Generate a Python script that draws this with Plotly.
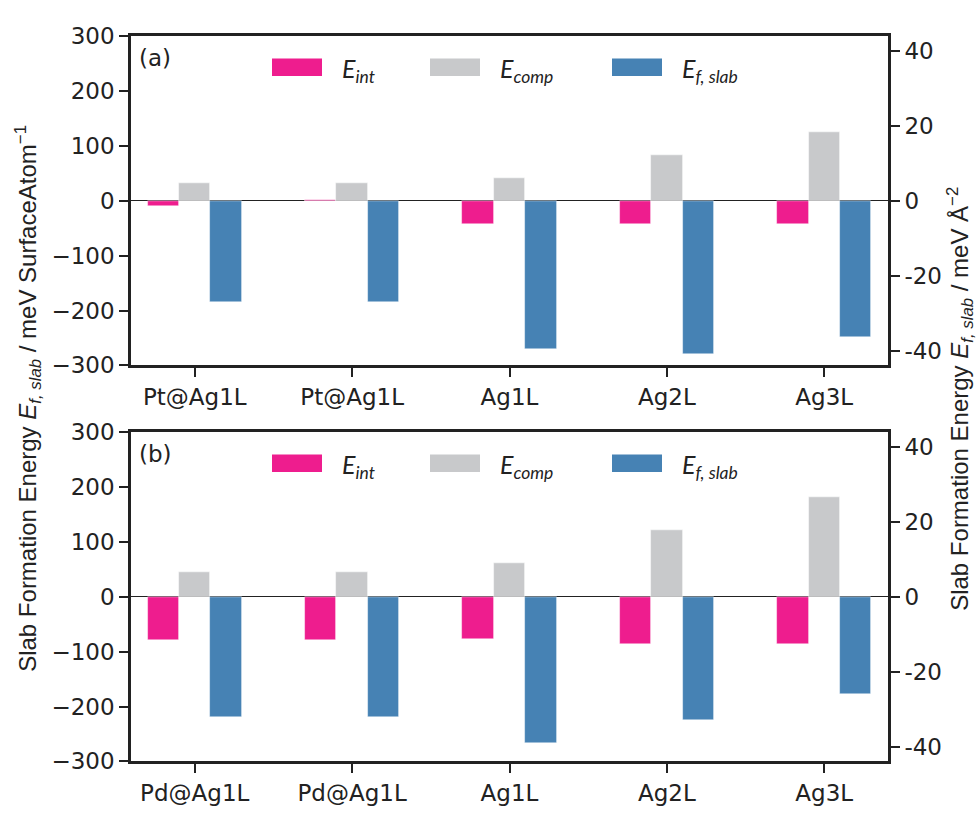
import plotly.graph_objects as go
from plotly.subplots import make_subplots

# ---- data -------------------------------------------------------------
labels_a = ["Pt@Ag1L", "Pt@Ag1L", "Ag1L", "Ag2L", "Ag3L"]
labels_b = ["Pd@Ag1L", "Pd@Ag1L", "Ag1L", "Ag2L", "Ag3L"]

# panel (a), meV per surface atom
e_int_a = [-10, 2, -43, -43, -43]
e_comp_a = [32, 32, 41, 84, 125]
e_fslab_a = [-185, -185, -270, -280, -248]

# panel (b), meV per surface atom
e_int_b = [-80, -80, -78, -87, -87]
e_comp_b = [45, 45, 61, 121, 181]
e_fslab_b = [-219, -219, -267, -224, -177]

series_names = ["<i>E</i><sub><i>int</i></sub>",
                "<i>E</i><sub><i>comp</i></sub>",
                "<i>E</i><sub><i>f, slab</i></sub>"]
series_colors = ["#EE1D8E", "#C8C9CB", "#4682B4"]
offsets = [-0.2, 0.0, 0.2]
bar_width = 0.2

left_ticks = [300, 200, 100, 0, -100, -200, -300]
right_ticks = [40, 20, 0, -20, -40]
right_ticktext = ["40", "20", "0", "-20", "-40"]
# meV/SurfaceAtom per meV/Å^2
unit_ratio = 6.84

# ---- figure -------------------------------------------------------------
W, H = 977, 818
fig = make_subplots(rows=2, cols=1,
                    specs=[[{"secondary_y": True}], [{"secondary_y": True}]])

panels = [
    (1, labels_a, [e_int_a, e_comp_a, e_fslab_a]),
    (2, labels_b, [e_int_b, e_comp_b, e_fslab_b]),
]
positions = list(range(len(labels_a)))

for row, cats, values in panels:
    for name, color, off, vals in zip(series_names, series_colors, offsets, values):
        fig.add_trace(
            go.Bar(x=[p + off for p in positions], y=vals, width=bar_width,
                   name=name, marker=dict(color=color,
                                          line=dict(color="rgba(255,255,255,0.6)", width=0.8)),
                   showlegend=False),
            row=row, col=1, secondary_y=False)
    # slab formation energy per area on the right-hand axis (carries that axis)
    fig.add_trace(
        go.Scatter(x=[p + offsets[2] for p in positions],
                   y=[v / unit_ratio for v in values[2]],
                   mode="markers", marker=dict(opacity=0), hoverinfo="skip",
                   showlegend=False),
        row=row, col=1, secondary_y=True)

# pixel layout of the two panels
px_left, px_right = 131, 888
panel_tops = [24, 433]
panel_h = 340

tick_font = dict(family="DejaVu Sans, sans-serif", size=23, color="#222")
axis_line = dict(showline=True, linecolor="#222", linewidth=2.6)

for i, (row, cats, _) in enumerate(panels):
    top = panel_tops[i]
    dom_y = [1 - (top + panel_h) / H, 1 - top / H]
    dom_x = [px_left / W, px_right / W]
    fig.update_xaxes(row=row, col=1, domain=dom_x, range=[-0.405, 4.405],
                     tickmode="array", tickvals=positions, ticktext=cats,
                     ticks="outside", ticklen=9, tickwidth=2, tickcolor="#222",
                     mirror=True, showgrid=False, zeroline=False,
                     tickfont=tick_font, **axis_line)
    fig.update_yaxes(row=row, col=1, secondary_y=False, domain=dom_y,
                     range=[-300, 300], tickmode="array", tickvals=left_ticks,
                     ticks="outside", ticklen=9, tickwidth=2, tickcolor="#222",
                     showgrid=False, zeroline=True, zerolinecolor="#222",
                     zerolinewidth=1.3, tickfont=tick_font, **axis_line)
    fig.update_yaxes(row=row, col=1, secondary_y=True,
                     range=[-300 / unit_ratio, 300 / unit_ratio],
                     tickmode="array", tickvals=right_ticks, ticktext=right_ticktext,
                     ticks="outside", ticklen=9, tickwidth=2, tickcolor="#222",
                     showgrid=False, zeroline=False, tickfont=tick_font, **axis_line)

# panel letters and legends drawn inside each panel
legend_keys_px = [272, 430, 612]
key_w, key_h = 50, 18
label_font = dict(family="Lato, Open Sans, sans-serif", size=25, color="#222")
annotations = []
shapes = []
for i, letter in enumerate(["(a)", "(b)"]):
    top = panel_tops[i]
    annotations.append(dict(x=137 / W, y=1 - (top + 22) / H, xref="paper", yref="paper",
                            text=letter, showarrow=False, xanchor="left", yanchor="middle",
                            font=dict(family="DejaVu Sans, sans-serif",
                                      size=23, color="#222")))
    cy = top + 32
    for kx, name, color in zip(legend_keys_px, series_names, series_colors):
        shapes.append(dict(type="rect", xref="paper", yref="paper",
                           x0=kx / W, x1=(kx + key_w) / W,
                           y0=1 - (cy + key_h / 2) / H, y1=1 - (cy - key_h / 2) / H,
                           fillcolor=color, line=dict(width=0)))
        annotations.append(dict(x=(kx + key_w + 18) / W, y=1 - (cy + 3) / H,
                                xref="paper", yref="paper", text=name, showarrow=False,
                                xanchor="left", yanchor="middle", font=label_font))

# shared axis titles
title_font = dict(family="Liberation Sans Narrow, Liberation Sans, Arial, sans-serif",
                  size=24, color="#222")
mid_y = 1 - (panel_tops[0] + panel_tops[1] + panel_h) / 2 / H
annotations.append(dict(
    x=28 / W, y=mid_y, xref="paper", yref="paper", textangle=-90, showarrow=False,
    text="Slab Formation Energy <i>E</i><sub><i>f, slab</i></sub> / meV SurfaceAtom<sup>\u22121</sup>",
    xanchor="center", yanchor="middle", font=title_font))
annotations.append(dict(
    x=960 / W, y=mid_y, xref="paper", yref="paper", textangle=-90, showarrow=False,
    text="Slab Formation Energy <i>E</i><sub><i>f, slab</i></sub> / meV \u00c5<sup>\u22122</sup>",
    xanchor="center", yanchor="middle", font=title_font))

fig.update_layout(width=W, height=H, margin=dict(l=0, r=0, t=0, b=0),
                  plot_bgcolor="white", paper_bgcolor="white",
                  barmode="overlay", bargap=0, showlegend=False,
                  annotations=annotations, shapes=shapes)

fig.write_html("out.html")
